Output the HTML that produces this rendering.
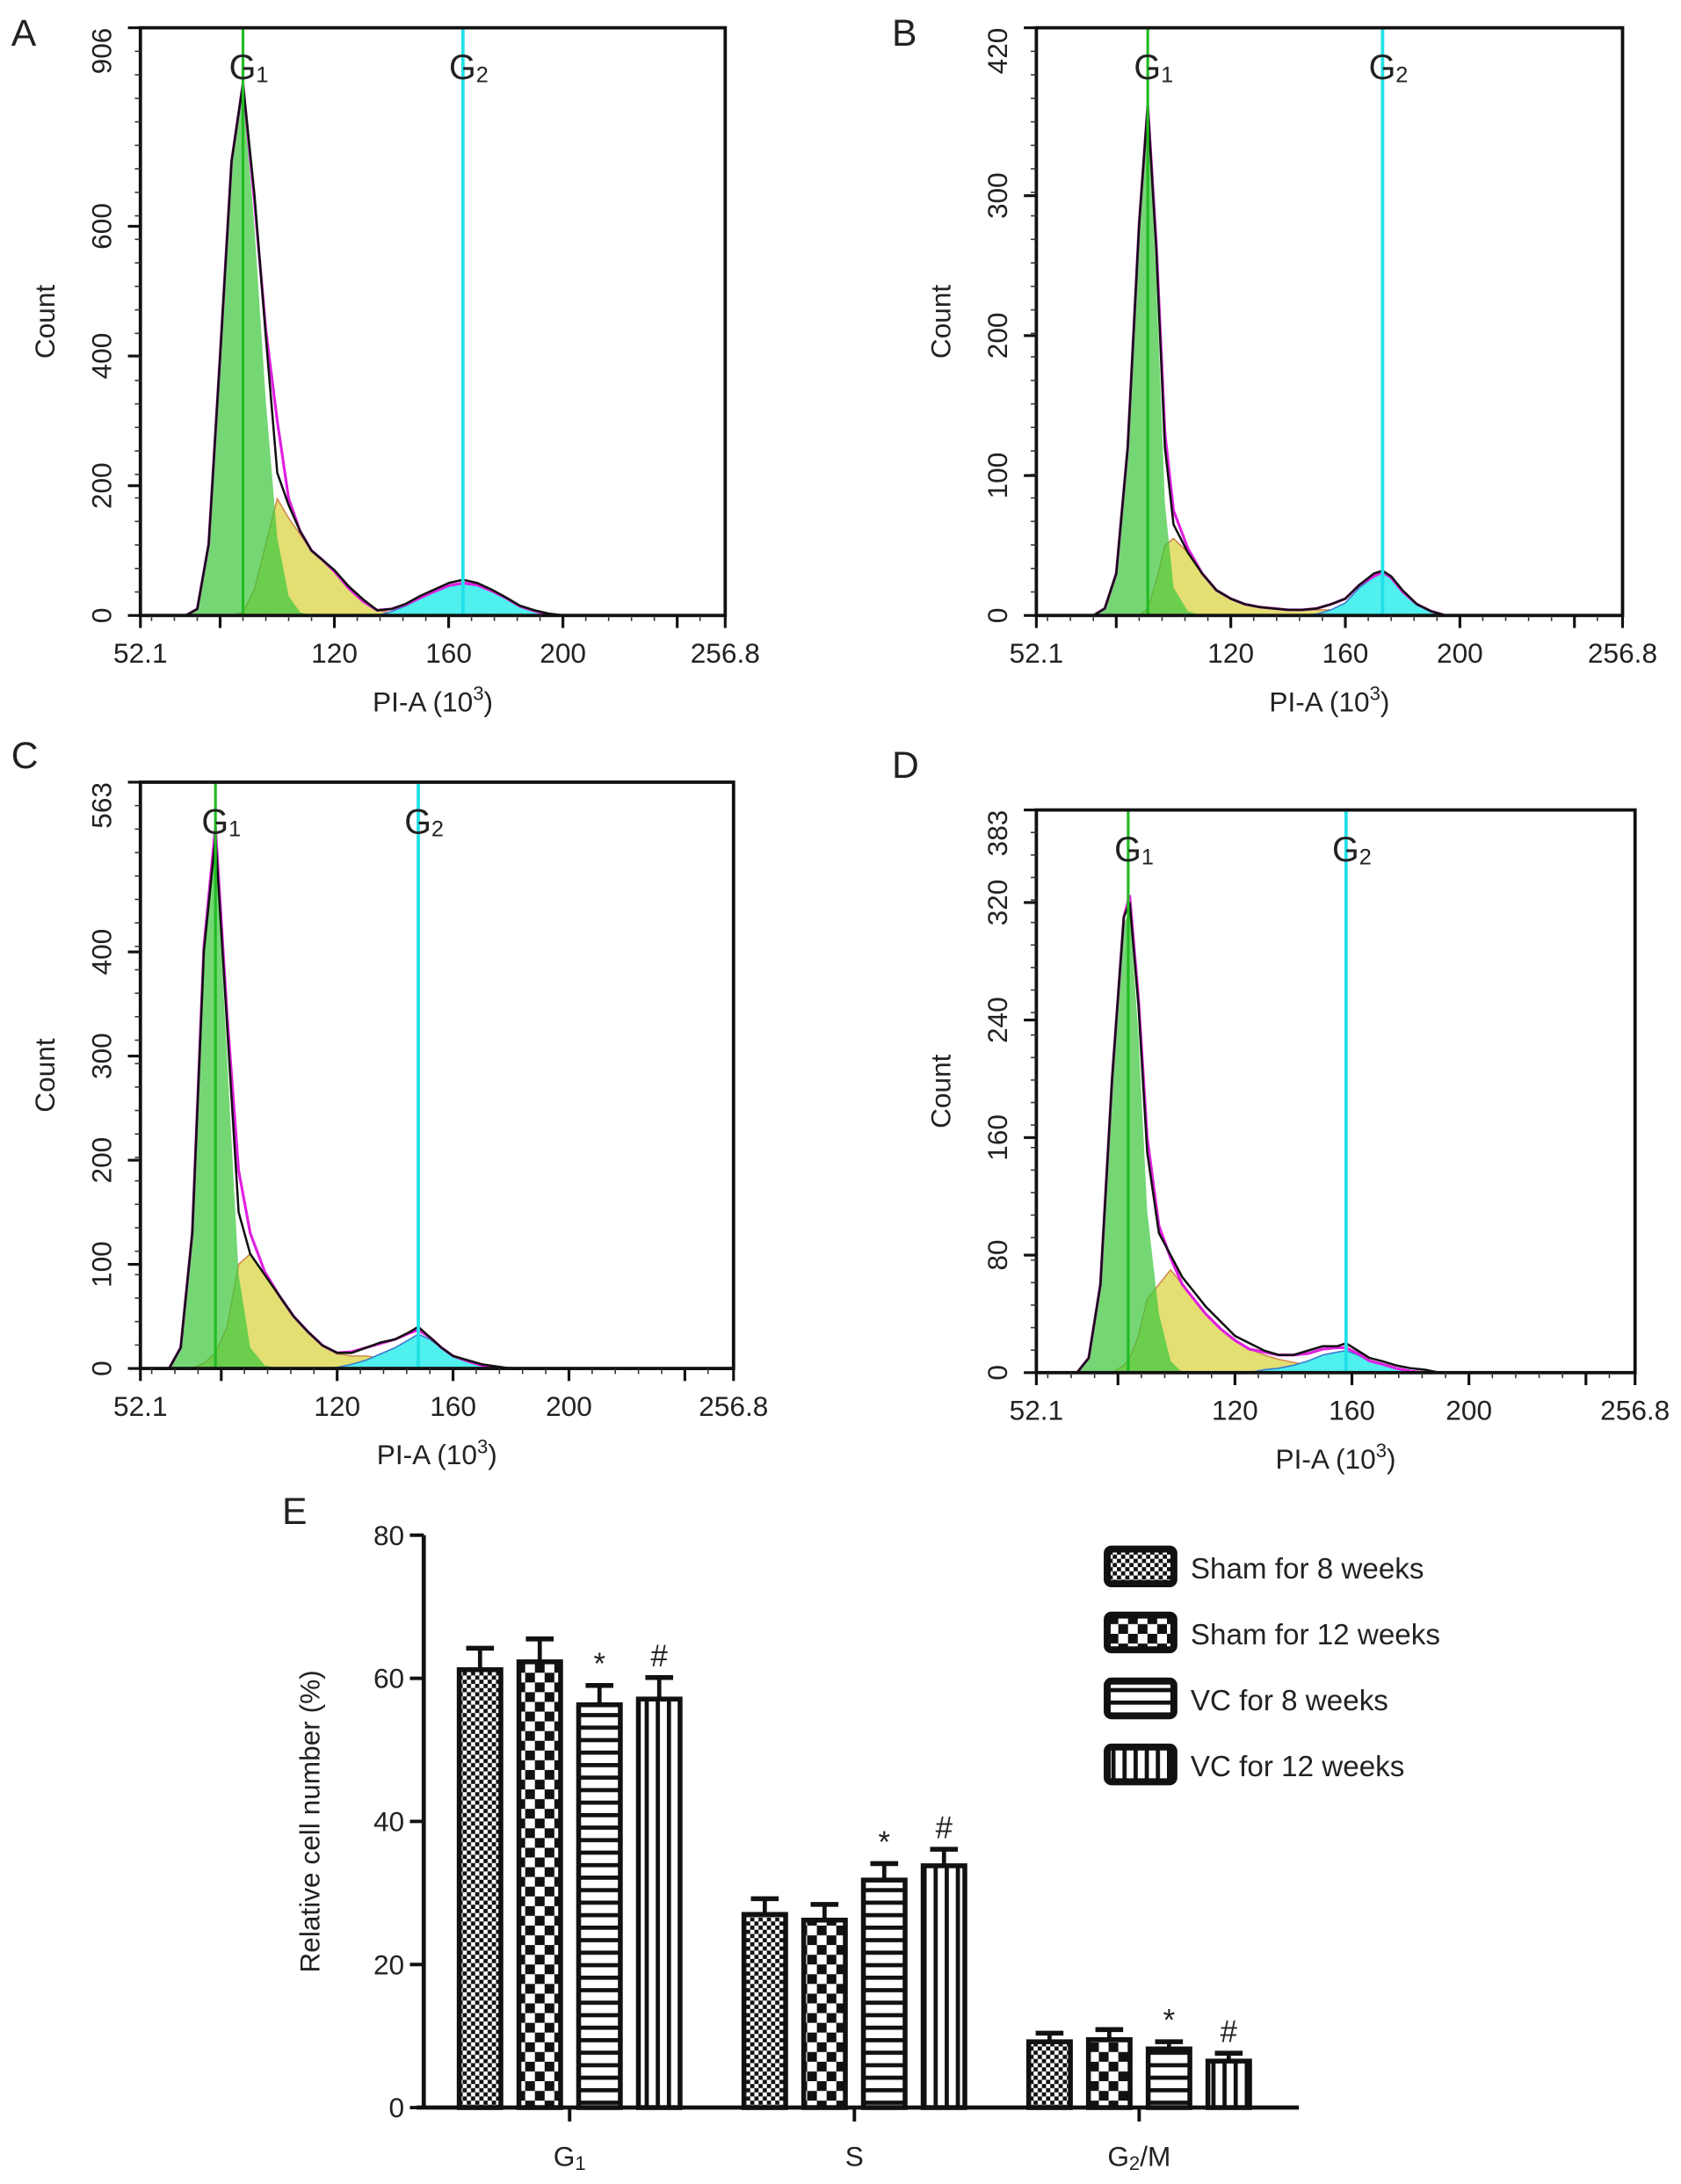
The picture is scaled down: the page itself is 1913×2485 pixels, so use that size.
<!DOCTYPE html>
<html><head><meta charset="utf-8">
<style>
html,body{margin:0;padding:0;background:#fff;}
svg{display:block;}
text{font-family:"Liberation Sans",Arial,sans-serif;fill:#222;}
</style></head>
<body>
<svg id="fig" width="1913" height="2485" viewBox="0 0 1210 1572" xmlns="http://www.w3.org/2000/svg">
<defs>
<pattern id="pFine" width="6" height="6" patternUnits="userSpaceOnUse"><rect width="6" height="6" fill="#fff"/><rect width="3" height="3" fill="#111"/><rect x="3" y="3" width="3" height="3" fill="#111"/></pattern>
<pattern id="pBig" width="14" height="14" patternUnits="userSpaceOnUse"><rect width="14" height="14" fill="#fff"/><rect width="7" height="7" fill="#111"/><rect x="7" y="7" width="7" height="7" fill="#111"/></pattern>
<pattern id="pHor" width="8" height="9" patternUnits="userSpaceOnUse"><rect width="8" height="9" fill="#fff"/><rect y="0" width="8" height="3" fill="#111"/></pattern>
<pattern id="pVer" width="8" height="8" patternUnits="userSpaceOnUse"><rect width="8" height="8" fill="#fff"/><rect x="0" width="3" height="8" fill="#111"/></pattern>
</defs>
<g id="root"></g>
</svg>
<script>
// ---------- Histogram data (count per PI-A bin) ----------
const xsA = [68,72,76,80,84,88,92,96,100,104,108,112,116,120,125,130,135,140,145,150,155,160,165,170,175,180,185,190,195,200];
const totalA = [0,10,110,400,700,820,650,430,220,170,130,100,85,70,45,25,8,10,18,30,40,50,55,50,40,28,15,8,3,0];
const g1A = [0,10,110,400,700,815,600,330,120,30,5,0,0,0,0,0,0,0,0,0,0,0,0,0,0,0,0,0,0,0];
const sA = [0,0,0,0,0,5,40,110,180,150,125,100,85,68,42,22,8,4,2,1,0,0,0,0,0,0,0,0,0,0];
const g2A = [0,0,0,0,0,0,0,0,0,0,0,0,0,0,0,0,0,6,15,26,37,46,50,47,38,27,14,7,2,0];

const xsB = [72,76,80,84,88,91,94,97,100,105,110,115,120,125,130,135,140,145,150,155,160,165,170,173,176,180,185,190,195];
const totalB = [0,5,30,120,280,365,260,120,65,45,30,18,12,8,6,5,4,4,5,8,12,22,30,32,28,18,8,3,0];
const g1B = [0,5,30,120,280,360,240,80,20,3,0,0,0,0,0,0,0,0,0,0,0,0,0,0,0,0,0,0,0];
const sB = [0,0,0,0,0,5,25,50,55,45,30,18,12,8,6,5,4,4,4,4,3,2,0,0,0,0,0,0,0];
const g2B = [0,0,0,0,0,0,0,0,0,0,0,0,0,0,0,0,0,0,1,4,9,20,28,31,27,17,8,3,0];

const xsC = [62,66,70,74,78,82,86,90,95,100,105,110,115,120,125,130,135,140,145,148,152,156,160,165,170,175,180];
const totalC = [0,20,130,400,510,330,150,110,90,70,50,35,22,15,15,20,25,28,35,40,30,20,12,8,4,2,0];
const g1C = [0,20,130,400,505,300,90,20,3,0,0,0,0,0,0,0,0,0,0,0,0,0,0,0,0,0,0];
const sC = [0,0,0,5,15,40,100,110,90,70,50,35,22,14,12,12,10,8,6,4,2,0,0,0,0,0,0];
const g2C = [0,0,0,0,0,0,0,0,0,0,0,0,0,1,4,8,14,20,28,33,28,20,12,7,3,1,0];

const xsD = [66,70,74,78,82,84,87,90,94,98,102,106,110,115,120,125,130,135,140,145,150,155,158,162,166,170,175,180,185,190];
const totalD = [0,10,60,200,310,320,250,150,95,80,65,55,45,35,25,20,15,12,12,15,18,18,20,15,10,8,5,3,2,0];
const g1D = [0,10,60,200,305,315,230,110,40,8,0,0,0,0,0,0,0,0,0,0,0,0,0,0,0,0,0,0,0,0];
const sD = [0,0,0,0,5,10,25,50,60,70,60,50,40,30,22,16,12,9,7,5,4,3,2,1,0,0,0,0,0,0];
const g2D = [0,0,0,0,0,0,0,0,0,0,0,0,0,0,0,0,2,3,5,8,12,14,15,12,8,6,3,1,0,0];

const yTicksA = [0,200,400,600,906];
const yTicksB = [0,100,200,300,420];
const yTicksC = [0,100,200,300,400,563];
const yTicksD = [0,80,160,240,320,383];
const xTickLabels = [52.1,120,160,200,256.8];
const gateA = [88,165], gateB = [91,173], gateC = [78,148], gateD = [83.5,158];

// ---------- Bar chart data ----------
const categories = ["G1","S","G2/M"];
const seriesNames = ["Sham for 8 weeks","Sham for 12 weeks","VC for 8 weeks","VC for 12 weeks"];
const shamWeek8 = [61.2,27.0,9.2];
const shamWeek12 = [62.3,26.2,9.5];
const vcWeek8 = [56.3,31.8,8.2];
const vcWeek12 = [57.1,33.8,6.5];
const errSham8 = [3.0,2.2,1.2];
const errSham12 = [3.2,2.2,1.4];
const errVc8 = [2.7,2.3,1.0];
const errVc12 = [3.0,2.3,1.1];
const barTicks = [0,20,40,60,80];
const markers = ["","","*","#"];

const NS = "http://www.w3.org/2000/svg";
const root = document.getElementById("root");
function mk(tag, attrs, parent){
  const e = document.createElementNS(NS, tag);
  for (const k in attrs) e.setAttribute(k, attrs[k]);
  (parent||root).appendChild(e);
  return e;
}

function histPanel(p){
  const g = mk("g",{});
  
  
  const X = v => p.x0 + (v-52.1)/204.7*(p.x1-p.x0);
  const Y = c => p.y1 - c/p.max*(p.y1-p.y0);
  const area = (arr) => {
    let d = "M"+X(p.xs[0])+","+Y(0);
    p.xs.forEach((x,i)=>{ d += " L"+X(x)+","+Y(arr[i]); });
    d += " L"+X(p.xs[p.xs.length-1])+","+Y(0)+" Z";
    return d;
  };
  const line = (arr) => "M"+p.xs.map((x,i)=>X(x)+","+Y(arr[i])).join(" L");
  const s = mk("path",{d:area(p.s),fill:"#e3df72",stroke:"#d08a50","stroke-width":1},g);
  
  
  const g2 = mk("path",{d:area(p.g2),fill:"#4ff0ee",stroke:"#3a7ad0","stroke-width":1},g);
  
  
  const g1 = mk("path",{d:area(p.g1),fill:"#3fc83f","fill-opacity":0.72,stroke:"none"},g);
  
  
  const model = p.xs.map((x,i)=>p.g1[i]+p.s[i]+p.g2[i]);
  const m = mk("path",{d:line(model),fill:"none",stroke:"#e020e0","stroke-width":2},g);
  
  
  const t = mk("path",{d:line(p.total),fill:"none",stroke:"#111","stroke-width":1.6},g);
  
  
  const gl1 = mk("line",{x1:X(p.gate[0]),x2:X(p.gate[0]),y1:p.y0,y2:p.y1,stroke:"#22bb22","stroke-width":2},g);
  
  
  const gl2 = mk("line",{x1:X(p.gate[1]),x2:X(p.gate[1]),y1:p.y0,y2:p.y1,stroke:"#22e0e8","stroke-width":2.4},g);
  
  
  [[p.gate[0],"1","g1-label"],[p.gate[1],"2","g2-label"]].forEach(([v,sub,nm])=>{
    const tx = mk("text",{x:X(v)-10,y:p.y0+37,"font-size":25},g);
    
    
    tx.textContent="G";
    const ts = mk("tspan",{"font-size":16,dy:2},tx); ts.textContent=sub;
  });
  const fr = mk("rect",{x:p.x0,y:p.y0,width:p.x1-p.x0,height:p.y1-p.y0,fill:"none",stroke:"#111","stroke-width":2.4},g);
  
  
  for(let v=56; v<256; v+=8){ mk("line",{x1:X(v),x2:X(v),y1:p.y1,y2:p.y1+4,stroke:"#333","stroke-width":1},g); }
  [52.1,80,120,160,200,240,256.8].forEach(v=>mk("line",{x1:X(v),x2:X(v),y1:p.y1,y2:p.y1+9,stroke:"#111","stroke-width":2},g));
  xTickLabels.forEach(v=>{
    const tx = mk("text",{x:X(v),y:p.y1+34,"font-size":20,"text-anchor":"middle"},g);
    
    
    tx.textContent = String(v);
  });
  p.yt.forEach(v=>{
    mk("line",{x1:p.x0-9,x2:p.x0,y1:Y(v),y2:Y(v),stroke:"#111","stroke-width":2},g);
    const tx = mk("text",{x:p.x0-21,y:Y(v),"font-size":20,"text-anchor":v===p.max?"end":"middle",transform:"rotate(-90 "+(p.x0-21)+" "+Y(v)+")"},g);
    
    
    tx.textContent = String(v);
  });
  for(let i=1;i<25;i++){ const yy=p.y1-i*(p.y1-p.y0)/25; mk("line",{x1:p.x0-4,x2:p.x0,y1:yy,y2:yy,stroke:"#333","stroke-width":1},g); }
  const xl = mk("text",{x:(p.x0+p.x1)/2,y:p.y1+69,"font-size":20,"text-anchor":"middle"},g);
  
  
  xl.textContent="PI-A (10";
  const sup = mk("tspan",{"font-size":14,dy:-8},xl); sup.textContent="3";
  const cl = mk("tspan",{dy:8},xl); cl.textContent=")";
  const yl = mk("text",{x:p.x0-62,y:(p.y0+p.y1)/2,"font-size":20,"text-anchor":"middle",transform:"rotate(-90 "+(p.x0-62)+" "+((p.y0+p.y1)/2)+")"},g);
  
  
  yl.textContent="Count";
  const lt = mk("text",{x:p.lx,y:p.ly,"font-size":27},g);
  
  
  lt.textContent=p.letter;
}

histPanel({letter:"A",lx:8,ly:33,x0:101,x1:522,y0:20,y1:443,max:906,yt:yTicksA,xs:xsA,total:totalA,g1:g1A,s:sA,g2:g2A,gate:gateA});
histPanel({letter:"B",lx:642,ly:33,x0:746,x1:1168,y0:20,y1:443,max:420,yt:yTicksB,xs:xsB,total:totalB,g1:g1B,s:sB,g2:g2B,gate:gateB});
histPanel({letter:"C",lx:8,ly:553,x0:101,x1:528,y0:563,y1:985,max:563,yt:yTicksC,xs:xsC,total:totalC,g1:g1C,s:sC,g2:g2C,gate:gateC});
histPanel({letter:"D",lx:642,ly:560,x0:746,x1:1177,y0:583,y1:988,max:383,yt:yTicksD,xs:xsD,total:totalD,g1:g1D,s:sD,g2:g2D,gate:gateD});

// ---------- Bar chart ----------
(function(){
  const g = mk("g",{});
  
  
  const ax0=305, ay0=1517, ay1=1105, axEnd=935;
  const Y = v => ay0 - v/80*(ay0-ay1);
  const groupCenters = [410,615,820];
  const barW = 30, step = 43;
  const series = [shamWeek8,shamWeek12,vcWeek8,vcWeek12];
  const errs = [errSham8,errSham12,errVc8,errVc12];
  const fills = ["url(#pFine)","url(#pBig)","url(#pHor)","url(#pVer)"];
  categories.forEach((c,ci)=>{
    series.forEach((arr,si)=>{
      const cx = groupCenters[ci] + (si-1.5)*step;
      const v = arr[ci], e = errs[si][ci];
      const el = mk("line",{x1:cx,x2:cx,y1:Y(v),y2:Y(v+e),stroke:"#111","stroke-width":3},g);
      
      
      mk("line",{x1:cx-10,x2:cx+10,y1:Y(v+e),y2:Y(v+e),stroke:"#111","stroke-width":3.5},g);
      const r = mk("rect",{x:cx-barW/2,y:Y(v),width:barW,height:ay0-Y(v),fill:fills[si],stroke:"#111","stroke-width":3.5},g);
      
      
      if(markers[si]){
        const m = mk("text",{x:cx,y:Y(v+e)-8,"font-size":22,"text-anchor":"middle"},g);
        
        
        m.textContent=markers[si];
      }
    });
    mk("line",{x1:groupCenters[ci],x2:groupCenters[ci],y1:ay0,y2:ay0+10,stroke:"#111","stroke-width":2.5},g);
    const lbl = mk("text",{x:groupCenters[ci],y:1559,"font-size":20,"text-anchor":"middle"},g);
    
    
    if(c==="G1"){ lbl.textContent="G"; const t=mk("tspan",{"font-size":14,dy:3},lbl); t.textContent="1"; }
    else if(c==="G2/M"){ lbl.textContent="G"; const t=mk("tspan",{"font-size":14,dy:3},lbl); t.textContent="2"; const t2=mk("tspan",{dy:-3},lbl); t2.textContent="/M"; }
    else lbl.textContent=c;
  });
  const ya = mk("line",{x1:ax0,x2:ax0,y1:ay1,y2:ay0,stroke:"#111","stroke-width":3},g);
  
  
  const xa = mk("line",{x1:ax0-5,x2:axEnd,y1:ay0,y2:ay0,stroke:"#111","stroke-width":3},g);
  
  
  barTicks.forEach(v=>{
    mk("line",{x1:ax0-10,x2:ax0,y1:Y(v),y2:Y(v),stroke:"#111","stroke-width":2.5},g);
    const t = mk("text",{x:ax0-14,y:Y(v)+7,"font-size":20,"text-anchor":"end"},g);
    
    
    t.textContent=String(v);
  });
  const yt = mk("text",{x:230,y:1311,"font-size":20,"text-anchor":"middle",transform:"rotate(-90 230 1311)"},g);
  
  
  yt.textContent="Relative cell number (%)";
  const le = mk("text",{x:203,y:1097,"font-size":27},g);
  
  
  le.textContent="E";
  seriesNames.forEach((n,i)=>{
    const y = 1115 + i*47.5;
    const lg = mk("g",{},g);
    
    
    mk("rect",{x:797,y:y,width:48,height:25,rx:3,fill:fills[i],stroke:"#111","stroke-width":5},lg);
    const t = mk("text",{x:857,y:y+21,"font-size":21},lg);
    t.textContent=n;
  });
})();
</script>
</body></html>
